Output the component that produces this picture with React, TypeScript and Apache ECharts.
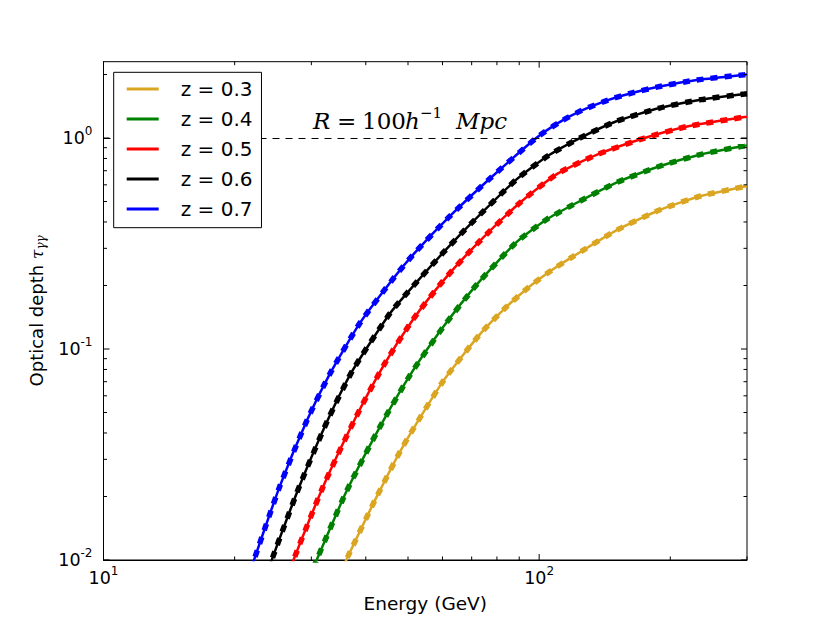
import React, { useEffect, useRef } from "react";
import * as echarts from "echarts";

// ---- data ----
const redshiftLabels = ["z = 0.3", "z = 0.4", "z = 0.5", "z = 0.6", "z = 0.7"];
const curveColors = ["#DAA520", "#008000", "#FF0000", "#000000", "#0000FF"];

const energyZ03 = [34.1, 36.4, 42.3, 48.7, 60, 73, 84, 95.1, 107, 119.5, 150, 189, 235, 296, 300];
const tauZ03 = [0.00776, 0.0104, 0.0198, 0.0346, 0.0697, 0.117, 0.158, 0.198, 0.237, 0.274, 0.364, 0.456, 0.531, 0.589, 0.591];

const energyZ04 = [29.5, 31.1, 36.1, 42.7, 50.5, 60.2, 72.3, 88.6, 104, 121.7, 150, 189, 235, 296, 300];
const tauZ04 = [0.00798, 0.0104, 0.0211, 0.0413, 0.075, 0.127, 0.2047, 0.32, 0.411, 0.492, 0.613, 0.735, 0.836, 0.919, 0.923];

const energyZ05 = [26.1, 27.5, 31.9, 37.7, 44, 51.3, 60.2, 72, 90.2, 110, 135, 174.6, 220, 296, 300];
const tauZ05 = [0.00776, 0.0104, 0.0222, 0.0462, 0.0839, 0.1377, 0.2104, 0.315, 0.492, 0.676, 0.83, 1.0, 1.137, 1.257, 1.26];

const energyZ06 = [23.3, 24.5, 28.2, 32.8, 37.4, 45.4, 51.3, 60.2, 70, 88.6, 105, 124, 150, 189, 235, 296, 300];
const tauZ06 = [0.00766, 0.0104, 0.0225, 0.0466, 0.0798, 0.147, 0.198, 0.286, 0.396, 0.635, 0.826, 1.0, 1.198, 1.387, 1.52, 1.617, 1.622];

const energyZ07 = [21.3, 22.3, 25.4, 29.3, 33.1, 38.8, 46.6, 51.8, 62.3, 77, 98.5, 111.4, 125, 145, 165, 189, 230, 296, 300];
const tauZ07 = [0.00773, 0.0104, 0.0224, 0.0458, 0.0764, 0.133, 0.22, 0.2855, 0.425, 0.641, 1.0, 1.189, 1.349, 1.521, 1.644, 1.754, 1.884, 1.995, 2.003];

const energySets = [energyZ03, energyZ04, energyZ05, energyZ06, energyZ07];
const tauSets = [tauZ03, tauZ04, tauZ05, tauZ06, tauZ07];

const referenceTau = 1;

const xRange = [10, 300];
const yRange = [0.01, 2.3];

const xMajorTicks = [10, 100];
const xMinorTicks = [20, 30, 40, 50, 60, 70, 80, 90, 200, 300];
const yMajorTicks = [0.01, 0.1, 1];
const yMinorTicks = [
  0.02, 0.03, 0.04, 0.05, 0.06, 0.07, 0.08, 0.09,
  0.2, 0.3, 0.4, 0.5, 0.6, 0.7, 0.8, 0.9, 2,
];

const FONT = "DejaVu Sans";
const SERIF = "DejaVu Serif";

function powLabel(v: number): string {
  const p = Math.log10(v);
  const r = Math.round(p);
  if (Math.abs(p - r) > 1e-6) return "";
  return `{b|10}{s|${r}}`;
}

const labelRich = {
  b: { fontSize: 17.5, fontFamily: FONT, color: "#000" },
  s: { fontSize: 12, fontFamily: FONT, color: "#000", padding: [0, 0, 14, 0] },
};

export default function App() {
  const ref = useRef<HTMLDivElement>(null);

  useEffect(() => {
    if (!ref.current) return;
    const chart = echarts.init(ref.current, undefined, { renderer: "svg" });

    const lineSeries: any[] = [];
    redshiftLabels.forEach((name, i) => {
      const data = energySets[i].map((e, j) => [e, tauSets[i][j]]);
      lineSeries.push({
        type: "line",
        name,
        data,
        symbol: "none",
        showSymbol: false,
        smooth: 0.2,
        lineStyle: { color: curveColors[i], width: 2.5 },
        itemStyle: { color: curveColors[i] },
        z: 3,
        silent: true,
      });
      lineSeries.push({
        type: "line",
        name: name + " (dashed)",
        data,
        symbol: "none",
        showSymbol: false,
        smooth: 0.2,
        lineStyle: { color: curveColors[i], width: 5.5, type: [7, 7] },
        itemStyle: { color: curveColors[i] },
        z: 3,
        silent: true,
      });
    });

    // reference line at tau = 1
    lineSeries[0].markLine = {
      silent: true,
      symbol: ["none", "none"],
      label: { show: false },
      lineStyle: { color: "#000", width: 1, type: [7, 6] },
      data: [{ yAxis: referenceTau }],
    };

    const tickData: number[][] = [];
    xMajorTicks.forEach((v) => tickData.push([v, yRange[0], 1, 0]));
    xMinorTicks.forEach((v) => tickData.push([v, yRange[0], 0, 0]));
    yMajorTicks.forEach((v) => tickData.push([xRange[0], v, 1, 1]));
    yMinorTicks.forEach((v) => tickData.push([xRange[0], v, 0, 1]));

    const tickSeries = {
      type: "custom",
      name: "ticks",
      silent: true,
      z: 5,
      encode: { x: 0, y: 1 },
      data: tickData,
      renderItem: (params: any, api: any) => {
        const cs = params.coordSys;
        const major = api.value(2) === 1;
        const dir = api.value(3);
        const len = major ? 6 : 3.5;
        const p = api.coord([api.value(0), api.value(1)]);
        const style = { stroke: "#000", lineWidth: 1 };
        if (dir === 0) {
          const x = p[0];
          const yb = cs.y + cs.height;
          return {
            type: "group",
            children: [
              { type: "line", shape: { x1: x, y1: yb, x2: x, y2: yb - len }, style },
              { type: "line", shape: { x1: x, y1: cs.y, x2: x, y2: cs.y + len }, style },
            ],
          };
        }
        const y = p[1];
        const xr = cs.x + cs.width;
        return {
          type: "group",
          children: [
            { type: "line", shape: { x1: cs.x, y1: y, x2: cs.x + len, y2: y }, style },
            { type: "line", shape: { x1: xr, y1: y, x2: xr - len, y2: y }, style },
          ],
        };
      },
    };

    const option: any = {
      animation: false,
      backgroundColor: "#ffffff",
      grid: {
        left: 103.5,
        top: 61.7,
        right: 83,
        bottom: 63,
        show: true,
        borderColor: "#000",
        borderWidth: 1,
        backgroundColor: "transparent",
      },
      xAxis: {
        type: "log",
        logBase: 10,
        min: xRange[0],
        max: xRange[1],
        name: "Energy (GeV)",
        nameLocation: "middle",
        nameGap: 34,
        nameTextStyle: { fontFamily: FONT, fontSize: 18.5, color: "#000" },
        axisLine: { show: true, lineStyle: { color: "#000", width: 1 } },
        axisTick: { show: false },
        splitLine: { show: false },
        axisLabel: {
          margin: 5,
          formatter: powLabel,
          rich: labelRich,
          showMaxLabel: false,
        },
      },
      yAxis: {
        type: "log",
        logBase: 10,
        min: yRange[0],
        max: yRange[1],
        name: "{n|Optical depth }{t|τ}{g|γγ}",
        nameLocation: "middle",
        nameGap: 55,
        nameTextStyle: {
          fontFamily: FONT,
          fontSize: 18,
          color: "#000",
          rich: {
            n: { fontFamily: FONT, fontSize: 18, color: "#000" },
            t: { fontFamily: SERIF, fontStyle: "italic", fontSize: 17, color: "#000" },
            g: { fontFamily: SERIF, fontStyle: "italic", fontSize: 12, color: "#000", padding: [9, 0, 0, 0] },
          },
        },
        axisLine: { show: true, lineStyle: { color: "#000", width: 1 } },
        axisTick: { show: false },
        splitLine: { show: false },
        axisLabel: {
          margin: 11,
          formatter: powLabel,
          rich: labelRich,
          showMaxLabel: false,
        },
      },
      legend: {
        data: redshiftLabels,
        orient: "vertical",
        left: 113.7,
        top: 72.3,
        backgroundColor: "#fff",
        borderColor: "#000",
        borderWidth: 1,
        borderRadius: 0,
        padding: [6.7, 9, 8.7, 13],
        icon: "rect",
        itemWidth: 32,
        itemHeight: 3,
        itemGap: 10,
        selectedMode: false,
        textStyle: {
          fontFamily: FONT,
          fontSize: 20,
          lineHeight: 20,
          color: "#000",
          padding: [0, 0, 0, 17],
        },
        z: 10,
      },
      graphic: [
        {
          type: "text",
          x: 313,
          y: 121,
          z: 20,
          style: {
            text: "{r|R}{e|=}{n|100}{h|h}{s|−1}{i|Mpc}",
            verticalAlign: "middle",
            fill: "#000",
            rich: {
              r: { fontFamily: SERIF, fontStyle: "italic", fontSize: 23, fill: "#000", width: 24 },
              e: { fontFamily: SERIF, fontSize: 23, fill: "#000", width: 25 },
              n: { fontFamily: SERIF, fontSize: 23, fill: "#000", width: 43 },
              h: { fontFamily: SERIF, fontStyle: "italic", fontSize: 23, fill: "#000", width: 15 },
              s: { fontFamily: SERIF, fontSize: 15, fill: "#000", width: 36, padding: [0, 0, 16, 0] },
              i: { fontFamily: SERIF, fontStyle: "italic", fontSize: 23, fill: "#000" },
            },
          },
        },
      ],
      series: [...lineSeries, tickSeries],
    };

    chart.setOption(option);
    return () => chart.dispose();
  }, []);

  return (
    <div
      ref={ref}
      style={{ position: "absolute", left: 0, top: 0, width: 830, height: 623, background: "#fff" }}
    />
  );
}
